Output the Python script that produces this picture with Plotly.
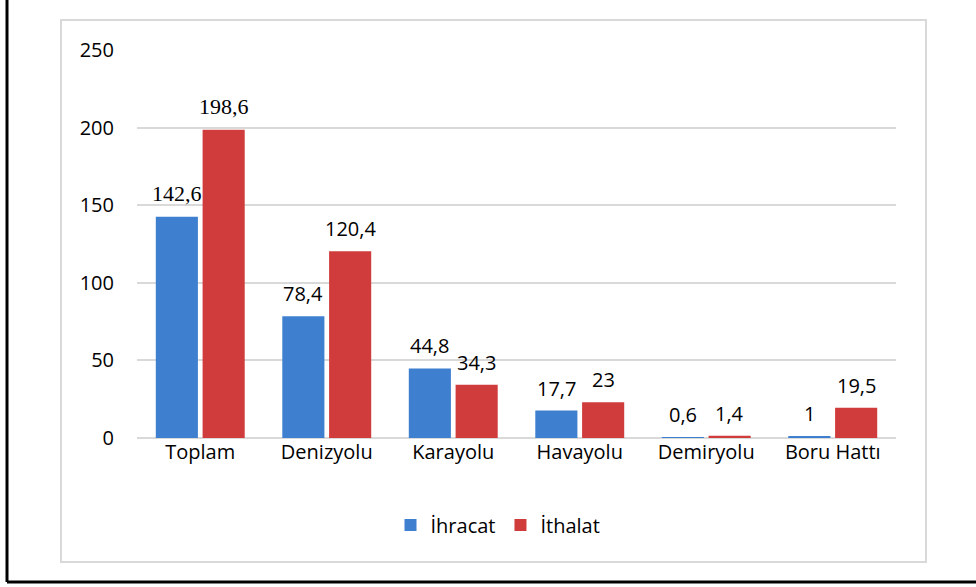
import plotly.graph_objects as go

categories = ["Toplam", "Denizyolu", "Karayolu", "Havayolu", "Demiryolu", "Boru Hattı"]
ihracat = [142.6, 78.4, 44.8, 17.7, 0.6, 1]
ithalat = [198.6, 120.4, 34.3, 23, 1.4, 19.5]
y_ticks = [0, 50, 100, 150, 200, 250]

def fmt(v):
    return ("%g" % v).replace(".", ",")

serif = "Liberation Serif, DejaVu Serif, serif"
sans = "Open Sans"

W, H = 976, 587
L, R, T, B = 137, 80, 50, 149
pw, ph = W - L - R, H - T - B
BARGAP, GROUPGAP = 0.26, 0.1

def px(x):
    return (x - L) / pw

def py(y):
    return (H - B - y) / ph

fig = go.Figure()
fig.add_trace(go.Bar(
    name="İhracat", x=categories, y=ihracat,
    marker=dict(color="#3f7fd0", line=dict(width=0)),
))
fig.add_trace(go.Bar(
    name="İthalat", x=categories, y=ithalat,
    marker=dict(color="#d03c3c", line=dict(width=0)),
))

# data labels placed above each bar
slot = pw / len(categories)
off = slot * (1 - BARGAP) / 4
annotations = []
for vals, sgn in ((ihracat, -1), (ithalat, 1)):
    for c, v in zip(categories, vals):
        serif_lbl = c == "Toplam"
        annotations.append(dict(
            x=c, y=v, xref="x", yref="y", text=fmt(v), showarrow=False,
            xanchor="center", yanchor="bottom", xshift=sgn * off,
            yshift=9 if serif_lbl else 7,
            font=dict(family=serif if serif_lbl else sans, size=22 if serif_lbl else 20, color="black"),
        ))

fig.update_layout(
    width=W, height=H,
    margin=dict(l=L, r=R, t=T, b=B, autoexpand=False),
    paper_bgcolor="white", plot_bgcolor="white",
    barmode="group", bargap=BARGAP, bargroupgap=GROUPGAP,
    font=dict(family=sans, size=20, color="black"),
    showlegend=True,
    legend=dict(orientation="h", x=px(498), xanchor="center", y=py(525), yanchor="middle",
                font=dict(family=sans, size=20), itemwidth=30, traceorder="normal"),
    xaxis=dict(showgrid=False, showline=False, ticks="", tickfont=dict(size=20)),
    yaxis=dict(range=[0, 250], tickvals=y_ticks, showgrid=True, gridcolor="#d9d9d9", gridwidth=2,
               zeroline=True, zerolinecolor="#d9d9d9", zerolinewidth=2, showline=False,
               ticks="", ticklabelstandoff=22, tickfont=dict(size=20)),
    annotations=annotations,
)

shapes = [
    dict(type="rect", xref="paper", yref="paper", x0=px(61), x1=px(926), y0=py(20), y1=py(562),
         line=dict(color="#d9d9d9", width=2), fillcolor="rgba(0,0,0,0)", layer="below"),
    dict(type="line", xref="paper", yref="paper", x0=px(7), x1=px(7), y0=py(-5), y1=py(582),
         line=dict(color="black", width=3)),
    dict(type="line", xref="paper", yref="paper", x0=px(7), x1=px(990), y0=py(582), y1=py(582),
         line=dict(color="black", width=3)),
]
fig.update_layout(shapes=shapes)

fig.write_html("out.html", config={"displayModeBar": False},
               post_script="document.body.style.margin='0';document.body.style.overflow='hidden';")
